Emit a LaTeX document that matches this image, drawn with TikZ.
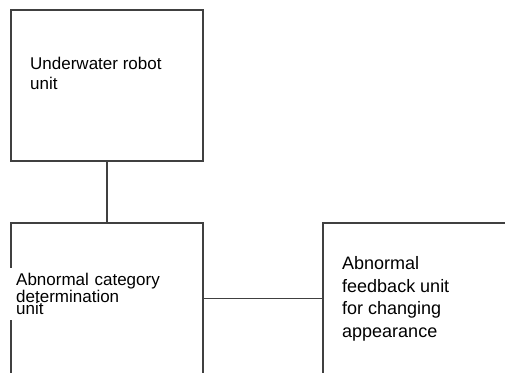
\documentclass[tikz,border=0pt]{standalone}
\usepackage{fontspec}
\setmainfont{Liberation Sans}
\begin{document}
\lineskiplimit=-20pt
\begin{tikzpicture}[x=1pt,y=-1pt]
\tikzset{unitbox/.style={draw=black!75,line width=1.2pt,minimum width=192pt,minimum height=151pt,inner sep=0pt},
  unitline/.style={draw=black!75,line width=1.2pt},
  unittext/.style={align=left,inner sep=0pt,anchor=north west}}
\clip (0,0) rectangle (505,372);

\node[unitbox] (robot)    at (107,85.5)  {};
\node[unitbox] (category) at (107,298.5) {};
\node[unitbox] (feedback) at (419,298.5) {};

\draw[unitline] (robot) -- (category);
\draw[unitline] (category) -- (feedback);

\node[unittext,font=\fontsize{17}{19.5}\selectfont] (robot text) at (30,57) {Underwater robot\\unit};
\node[unittext,fill=white,inner xsep=6pt,inner ysep=5pt,text width=168pt,
  font=\fontsize{17}{12.5}\selectfont] (category text) at (10,268)
  {Abnormal category\\determination\\unit};
\node[unittext,font=\fontsize{18}{22.5}\selectfont] (feedback text) at (342,256.5)
  {Abnormal\\feedback unit\\for changing\\appearance};
\end{tikzpicture}
\end{document}
